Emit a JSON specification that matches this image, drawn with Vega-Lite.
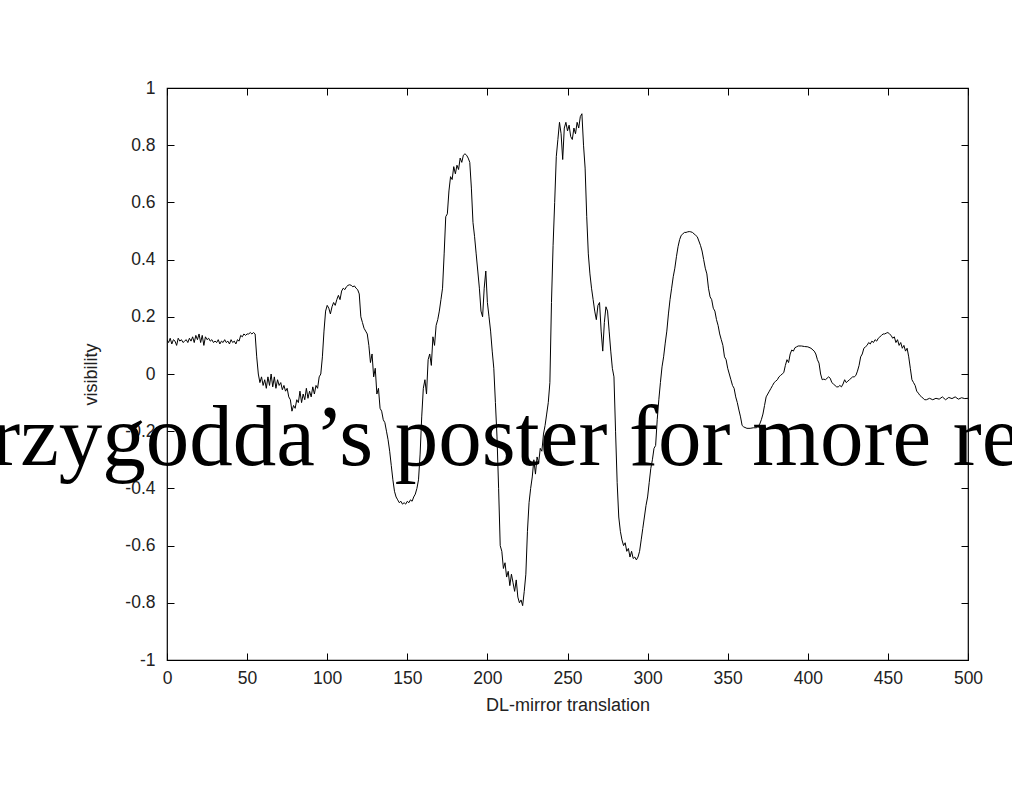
{
  "$schema": "https://vega.github.io/schema/vega-lite/v6.json",
  "autosize": {"type": "none"},
  "width": 801,
  "height": 572,
  "padding": {"left": 167, "top": 88, "right": 44, "bottom": 126},
  "background": "white",
  "config": {
    "view": {"stroke": "#000", "strokeWidth": 1.2},
    "axis": {
      "domain": false,
      "grid": false,
      "tickColor": "#000",
      "tickSize": -7,
      "tickWidth": 1,
      "labelFlush": false,
      "labelFont": "Liberation Sans",
      "labelFontSize": 17.5,
      "labelColor": "#222",
      "titleFont": "Liberation Sans",
      "titleFontSize": 18,
      "titleFontWeight": "normal",
      "titleColor": "#222"
    }
  },
  "resolve": {"axis": {"x": "independent", "y": "independent"}},
  "layer": [
    {
      "data": {"values": [
        {"t":0,"v":0.12},{"t":1,"v":0.11},{"t":2,"v":0.125},{"t":3,"v":0.105},{"t":4,"v":0.12},{"t":5,"v":0.115},{"t":6,"v":0.1},{"t":7,"v":0.125},{"t":8,"v":0.115},{"t":9,"v":0.12},
        {"t":10,"v":0.11},{"t":11,"v":0.115},{"t":12,"v":0.12},{"t":13,"v":0.11},{"t":14,"v":0.125},{"t":15,"v":0.115},{"t":16,"v":0.13},{"t":17,"v":0.11},{"t":18,"v":0.135},{"t":19,"v":0.12},
        {"t":20,"v":0.14},{"t":21,"v":0.11},{"t":22,"v":0.135},{"t":23,"v":0.1},{"t":24,"v":0.13},{"t":25,"v":0.12},{"t":26,"v":0.125},{"t":27,"v":0.115},{"t":28,"v":0.12},{"t":29,"v":0.11},
        {"t":30,"v":0.115},{"t":31,"v":0.11},{"t":32,"v":0.12},{"t":33,"v":0.105},{"t":34,"v":0.115},{"t":35,"v":0.11},{"t":36,"v":0.12},{"t":37,"v":0.11},{"t":38,"v":0.115},{"t":39,"v":0.105},
        {"t":40,"v":0.12},{"t":41,"v":0.11},{"t":42,"v":0.115},{"t":43,"v":0.105},{"t":44,"v":0.12},{"t":45,"v":0.115},{"t":46,"v":0.135},{"t":47,"v":0.13},{"t":48,"v":0.14},{"t":49,"v":0.135},
        {"t":50,"v":0.14},{"t":51,"v":0.14},{"t":52,"v":0.145},{"t":53,"v":0.14},{"t":54,"v":0.145},{"t":55,"v":0.14},{"t":56,"v":0.06},{"t":57,"v":0.0},{"t":58,"v":-0.03},{"t":59,"v":-0.01},
        {"t":60,"v":-0.04},{"t":61,"v":-0.02},{"t":62,"v":-0.05},{"t":63,"v":-0.01},{"t":64,"v":-0.04},{"t":65,"v":0.0},{"t":66,"v":-0.045},{"t":67,"v":-0.01},{"t":68,"v":-0.05},{"t":69,"v":-0.02},
        {"t":70,"v":-0.04},{"t":71,"v":-0.03},{"t":72,"v":-0.055},{"t":73,"v":-0.04},{"t":74,"v":-0.06},{"t":75,"v":-0.05},{"t":76,"v":-0.08},{"t":77,"v":-0.09},{"t":78,"v":-0.13},{"t":79,"v":-0.11},
        {"t":80,"v":-0.12},{"t":81,"v":-0.09},{"t":82,"v":-0.1},{"t":83,"v":-0.06},{"t":84,"v":-0.1},{"t":85,"v":-0.07},{"t":86,"v":-0.09},{"t":87,"v":-0.05},{"t":88,"v":-0.085},{"t":89,"v":-0.06},
        {"t":90,"v":-0.08},{"t":91,"v":-0.045},{"t":92,"v":-0.07},{"t":93,"v":-0.04},{"t":94,"v":-0.05},{"t":95,"v":-0.01},{"t":96,"v":0.0},{"t":97,"v":0.06},{"t":98,"v":0.15},{"t":99,"v":0.22},
        {"t":100,"v":0.24},{"t":101,"v":0.23},{"t":102,"v":0.21},{"t":103,"v":0.235},{"t":104,"v":0.25},{"t":105,"v":0.24},{"t":106,"v":0.26},{"t":107,"v":0.275},{"t":108,"v":0.26},{"t":109,"v":0.29},
        {"t":110,"v":0.3},{"t":111,"v":0.295},{"t":112,"v":0.305},{"t":113,"v":0.31},{"t":114,"v":0.312},{"t":115,"v":0.31},{"t":116,"v":0.305},{"t":117,"v":0.308},{"t":118,"v":0.3},{"t":119,"v":0.295},
        {"t":120,"v":0.28},{"t":121,"v":0.2},{"t":122,"v":0.18},{"t":123,"v":0.16},{"t":124,"v":0.15},{"t":125,"v":0.14},{"t":126,"v":0.1},{"t":127,"v":0.04},{"t":128,"v":0.07},{"t":129,"v":-0.01},
        {"t":130,"v":0.02},{"t":131,"v":-0.07},{"t":132,"v":-0.05},{"t":133,"v":-0.12},{"t":134,"v":-0.13},{"t":135,"v":-0.16},{"t":136,"v":-0.17},{"t":137,"v":-0.2},{"t":138,"v":-0.23},{"t":139,"v":-0.27},
        {"t":140,"v":-0.32},{"t":141,"v":-0.37},{"t":142,"v":-0.41},{"t":143,"v":-0.43},{"t":144,"v":-0.44},{"t":145,"v":-0.45},{"t":146,"v":-0.445},{"t":147,"v":-0.455},{"t":148,"v":-0.45},{"t":149,"v":-0.455},
        {"t":150,"v":-0.445},{"t":151,"v":-0.45},{"t":152,"v":-0.44},{"t":153,"v":-0.445},{"t":154,"v":-0.43},{"t":155,"v":-0.42},{"t":156,"v":-0.4},{"t":157,"v":-0.37},{"t":158,"v":-0.28},{"t":159,"v":-0.15},
        {"t":160,"v":-0.05},{"t":161,"v":-0.02},{"t":162,"v":-0.07},{"t":163,"v":0.05},{"t":164,"v":0.07},{"t":165,"v":0.03},{"t":166,"v":0.13},{"t":167,"v":0.1},{"t":168,"v":0.17},{"t":169,"v":0.19},
        {"t":170,"v":0.22},{"t":171,"v":0.26},{"t":172,"v":0.3},{"t":173,"v":0.42},{"t":174,"v":0.55},{"t":175,"v":0.56},{"t":176,"v":0.64},{"t":177,"v":0.69},{"t":178,"v":0.68},{"t":179,"v":0.725},
        {"t":180,"v":0.7},{"t":181,"v":0.73},{"t":182,"v":0.715},{"t":183,"v":0.755},{"t":184,"v":0.74},{"t":185,"v":0.765},{"t":186,"v":0.77},{"t":187,"v":0.765},{"t":188,"v":0.755},{"t":189,"v":0.74},
        {"t":190,"v":0.65},{"t":191,"v":0.53},{"t":192,"v":0.48},{"t":193,"v":0.42},{"t":194,"v":0.36},{"t":195,"v":0.3},{"t":196,"v":0.22},{"t":197,"v":0.2},{"t":198,"v":0.3},{"t":199,"v":0.36},
        {"t":200,"v":0.25},{"t":201,"v":0.2},{"t":202,"v":0.15},{"t":203,"v":0.08},{"t":204,"v":0.02},{"t":205,"v":-0.1},{"t":206,"v":-0.22},{"t":207,"v":-0.4},{"t":208,"v":-0.6},{"t":209,"v":-0.62},
        {"t":210,"v":-0.68},{"t":211,"v":-0.66},{"t":212,"v":-0.71},{"t":213,"v":-0.69},{"t":214,"v":-0.74},{"t":215,"v":-0.7},{"t":216,"v":-0.73},{"t":217,"v":-0.76},{"t":218,"v":-0.72},{"t":219,"v":-0.78},
        {"t":220,"v":-0.8},{"t":221,"v":-0.79},{"t":222,"v":-0.81},{"t":223,"v":-0.76},{"t":224,"v":-0.7},{"t":225,"v":-0.55},{"t":226,"v":-0.45},{"t":227,"v":-0.4},{"t":228,"v":-0.36},{"t":229,"v":-0.3},
        {"t":230,"v":-0.35},{"t":231,"v":-0.29},{"t":232,"v":-0.31},{"t":233,"v":-0.26},{"t":234,"v":-0.27},{"t":235,"v":-0.21},{"t":236,"v":-0.18},{"t":237,"v":-0.14},{"t":238,"v":-0.1},{"t":239,"v":-0.03},
        {"t":240,"v":0.25},{"t":241,"v":0.45},{"t":242,"v":0.6},{"t":243,"v":0.76},{"t":244,"v":0.82},{"t":245,"v":0.88},{"t":246,"v":0.84},{"t":247,"v":0.75},{"t":248,"v":0.86},{"t":249,"v":0.88},
        {"t":250,"v":0.85},{"t":251,"v":0.87},{"t":252,"v":0.83},{"t":253,"v":0.82},{"t":254,"v":0.86},{"t":255,"v":0.84},{"t":256,"v":0.88},{"t":257,"v":0.86},{"t":258,"v":0.9},{"t":259,"v":0.91},
        {"t":260,"v":0.8},{"t":261,"v":0.72},{"t":262,"v":0.55},{"t":263,"v":0.42},{"t":264,"v":0.35},{"t":265,"v":0.3},{"t":266,"v":0.26},{"t":267,"v":0.22},{"t":268,"v":0.19},{"t":269,"v":0.24},
        {"t":270,"v":0.25},{"t":271,"v":0.15},{"t":272,"v":0.08},{"t":273,"v":0.18},{"t":274,"v":0.235},{"t":275,"v":0.22},{"t":276,"v":0.15},{"t":277,"v":0.08},{"t":278,"v":0.02},{"t":279,"v":-0.01},
        {"t":280,"v":-0.2},{"t":281,"v":-0.38},{"t":282,"v":-0.5},{"t":283,"v":-0.55},{"t":284,"v":-0.58},{"t":285,"v":-0.6},{"t":286,"v":-0.59},{"t":287,"v":-0.62},{"t":288,"v":-0.61},{"t":289,"v":-0.64},
        {"t":290,"v":-0.62},{"t":291,"v":-0.645},{"t":292,"v":-0.64},{"t":293,"v":-0.65},{"t":294,"v":-0.64},{"t":295,"v":-0.62},{"t":296,"v":-0.58},{"t":297,"v":-0.54},{"t":298,"v":-0.5},{"t":299,"v":-0.46},
        {"t":300,"v":-0.43},{"t":301,"v":-0.38},{"t":302,"v":-0.33},{"t":303,"v":-0.3},{"t":304,"v":-0.26},{"t":305,"v":-0.25},{"t":306,"v":-0.16},{"t":307,"v":-0.09},{"t":308,"v":-0.03},{"t":309,"v":0.025},
        {"t":310,"v":0.06},{"t":311,"v":0.108},{"t":312,"v":0.15},{"t":313,"v":0.21},{"t":314,"v":0.26},{"t":315,"v":0.3},{"t":316,"v":0.34},{"t":317,"v":0.37},{"t":318,"v":0.41},{"t":319,"v":0.445},
        {"t":320,"v":0.47},{"t":321,"v":0.485},{"t":322,"v":0.49},{"t":323,"v":0.495},{"t":324,"v":0.495},{"t":325,"v":0.497},{"t":326,"v":0.498},{"t":327,"v":0.497},{"t":328,"v":0.495},{"t":329,"v":0.49},
        {"t":330,"v":0.485},{"t":331,"v":0.48},{"t":332,"v":0.465},{"t":333,"v":0.45},{"t":334,"v":0.43},{"t":335,"v":0.4},{"t":336,"v":0.37},{"t":337,"v":0.35},{"t":338,"v":0.3},{"t":339,"v":0.27},
        {"t":340,"v":0.26},{"t":341,"v":0.23},{"t":342,"v":0.22},{"t":343,"v":0.19},{"t":344,"v":0.17},{"t":345,"v":0.14},{"t":346,"v":0.12},{"t":347,"v":0.1},{"t":348,"v":0.06},{"t":349,"v":0.05},
        {"t":350,"v":0.02},{"t":351,"v":0.0},{"t":352,"v":-0.02},{"t":353,"v":-0.04},{"t":354,"v":-0.05},{"t":355,"v":-0.08},{"t":356,"v":-0.1},{"t":357,"v":-0.126},{"t":358,"v":-0.15},{"t":359,"v":-0.18},
        {"t":360,"v":-0.185},{"t":362,"v":-0.19},{"t":364,"v":-0.19},{"t":366,"v":-0.188},{"t":368,"v":-0.188},{"t":370,"v":-0.175},{"t":371,"v":-0.16},{"t":372,"v":-0.14},{"t":373,"v":-0.11},{"t":374,"v":-0.08},
        {"t":375,"v":-0.07},{"t":376,"v":-0.06},{"t":377,"v":-0.05},{"t":378,"v":-0.04},{"t":379,"v":-0.03},{"t":380,"v":-0.025},{"t":381,"v":-0.02},{"t":382,"v":-0.01},{"t":383,"v":-0.005},{"t":384,"v":0.0},
        {"t":385,"v":0.005},{"t":386,"v":0.03},{"t":387,"v":0.05},{"t":388,"v":0.04},{"t":389,"v":0.07},{"t":390,"v":0.084},{"t":391,"v":0.08},{"t":392,"v":0.092},{"t":393,"v":0.095},{"t":394,"v":0.098},
        {"t":396,"v":0.098},{"t":398,"v":0.096},{"t":400,"v":0.095},{"t":402,"v":0.09},{"t":404,"v":0.08},{"t":405,"v":0.07},{"t":406,"v":0.05},{"t":407,"v":0.038},{"t":408,"v":0.0},{"t":409,"v":-0.02},
        {"t":410,"v":-0.018},{"t":411,"v":-0.02},{"t":412,"v":-0.015},{"t":413,"v":-0.01},{"t":414,"v":-0.015},{"t":415,"v":-0.03},{"t":416,"v":-0.035},{"t":417,"v":-0.04},{"t":418,"v":-0.045},{"t":419,"v":-0.045},
        {"t":420,"v":-0.04},{"t":421,"v":-0.045},{"t":422,"v":-0.035},{"t":423,"v":-0.02},{"t":424,"v":-0.03},{"t":425,"v":-0.025},{"t":426,"v":-0.02},{"t":427,"v":-0.015},{"t":428,"v":-0.01},{"t":429,"v":-0.01},
        {"t":430,"v":-0.005},{"t":431,"v":0.01},{"t":432,"v":0.03},{"t":433,"v":0.06},{"t":434,"v":0.07},{"t":435,"v":0.09},{"t":436,"v":0.095},{"t":437,"v":0.1},{"t":438,"v":0.11},{"t":439,"v":0.105},
        {"t":440,"v":0.115},{"t":441,"v":0.11},{"t":442,"v":0.12},{"t":443,"v":0.115},{"t":444,"v":0.125},{"t":445,"v":0.13},{"t":446,"v":0.135},{"t":447,"v":0.14},{"t":448,"v":0.14},{"t":449,"v":0.143},
        {"t":450,"v":0.145},{"t":451,"v":0.14},{"t":452,"v":0.135},{"t":453,"v":0.125},{"t":454,"v":0.13},{"t":455,"v":0.11},{"t":456,"v":0.12},{"t":457,"v":0.1},{"t":458,"v":0.11},{"t":459,"v":0.09},
        {"t":460,"v":0.1},{"t":461,"v":0.08},{"t":462,"v":0.09},{"t":463,"v":0.06},{"t":464,"v":0.02},{"t":465,"v":-0.02},{"t":466,"v":-0.03},{"t":467,"v":-0.04},{"t":468,"v":-0.06},{"t":469,"v":-0.067},
        {"t":470,"v":-0.075},{"t":471,"v":-0.08},{"t":472,"v":-0.085},{"t":473,"v":-0.09},{"t":474,"v":-0.09},{"t":476,"v":-0.085},{"t":478,"v":-0.09},{"t":480,"v":-0.085},{"t":482,"v":-0.088},{"t":484,"v":-0.08},
        {"t":486,"v":-0.09},{"t":488,"v":-0.082},{"t":490,"v":-0.086},{"t":492,"v":-0.08},{"t":494,"v":-0.088},{"t":496,"v":-0.083},{"t":498,"v":-0.086},{"t":500,"v":-0.085}
      ]},
      "mark": {"type": "line", "color": "#000", "strokeWidth": 1, "clip": true},
      "encoding": {
        "x": {"field": "t", "type": "quantitative",
          "scale": {"domain": [0, 500], "nice": false, "zero": false},
          "axis": {"orient": "bottom", "values": [0,50,100,150,200,250,300,350,400,450,500], "title": "DL-mirror translation", "labelPadding": 16, "titlePadding": 10}},
        "y": {"field": "v", "type": "quantitative",
          "scale": {"domain": [-1, 1], "nice": false, "zero": false},
          "axis": {"orient": "left", "values": [-1,-0.8,-0.6,-0.4,-0.2,0,0.2,0.4,0.6,0.8,1], "labelExpr": "'' + datum.value", "title": "visibility", "labelPadding": 19, "titlePadding": 24}}
      }
    },
    {
      "data": {"values": [{"px": -109.7, "py": -0.318, "label": "rzygodda’s poster for more re"}]},
      "mark": {"type": "text", "align": "left", "baseline": "alphabetic", "font": "Liberation Serif", "fontSize": 87, "color": "#000"},
      "encoding": {
        "x": {"field": "px", "type": "quantitative", "axis": {"orient": "top", "values": [0,50,100,150,200,250,300,350,400,450,500], "labels": false, "title": null}},
        "y": {"field": "py", "type": "quantitative", "axis": {"orient": "right", "values": [-1,-0.8,-0.6,-0.4,-0.2,0,0.2,0.4,0.6,0.8,1], "labels": false, "title": null}},
        "text": {"field": "label"}
      }
    }
  ]
}
